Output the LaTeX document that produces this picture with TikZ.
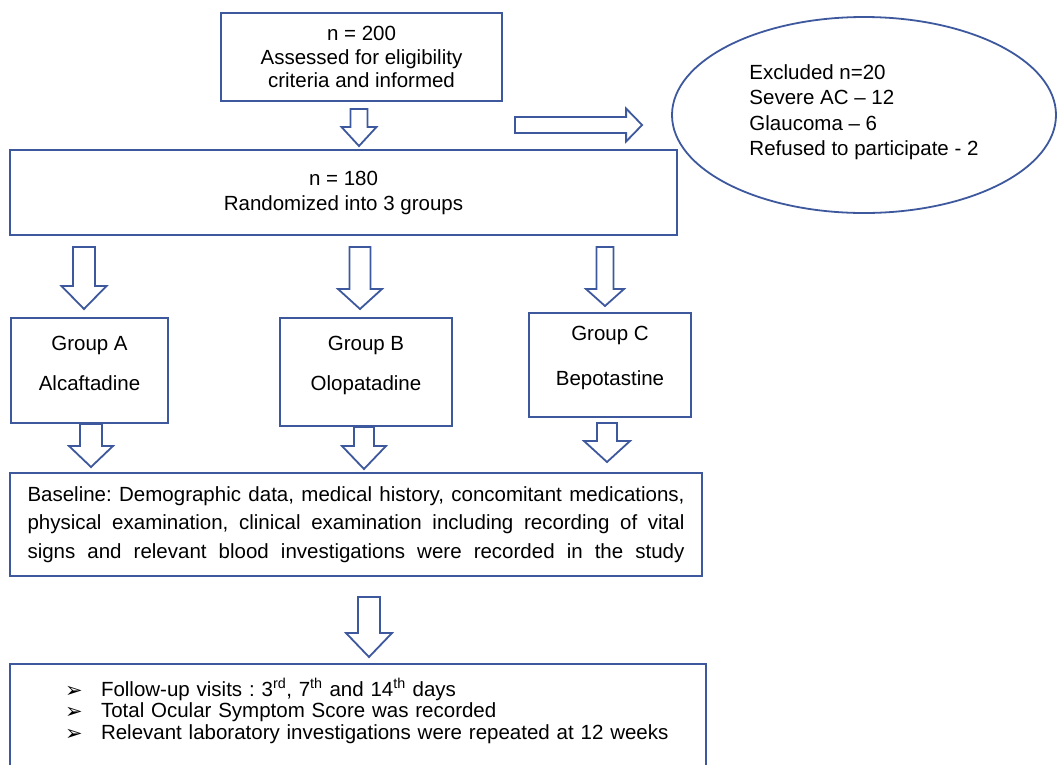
\documentclass[tikz,border=0pt]{standalone}
\usepackage{fontspec}
\setmainfont{Liberation Sans}
\newfontfamily\dejavu{DejaVu Sans}
\usetikzlibrary{shapes.geometric,calc}
\definecolor{flowblue}{RGB}{62,88,158}
\frenchspacing
\newcommand{\fs}[1]{\fontsize{20.5}{#1}\selectfont}
\newcommand{\bul}{\makebox[36pt][l]{\raisebox{-1pt}{\dejavu\fontsize{21}{21}\selectfont ➢}}}
\newcommand{\spreadline}[1]{\leavevmode\hbox to 657pt{\spaceskip=0.278em plus 1fil\relax #1}}
% #1 start, #2 tip, #3 shaft half width, #4 head half width, #5 head length
\newcommand{\blockdown}[5]{%
  \draw[blockarrow] let \p1=(#1), \p2=(#2) in
    (\x2-#3,\y1) -- (\x2+#3,\y1) -- (\x2+#3,\y2+#5) -- (\x2+#4,\y2+#5) --
    (\x2,\y2) -- (\x2-#4,\y2+#5) -- (\x2-#3,\y2+#5) -- cycle;}
\newcommand{\blockright}[5]{%
  \draw[blockarrow] let \p1=(#1), \p2=(#2) in
    (\x1,\y2+#3) -- (\x2-#5,\y2+#3) -- (\x2-#5,\y2+#4) -- (\x2,\y2) --
    (\x2-#5,\y2-#4) -- (\x2-#5,\y2-#3) -- (\x1,\y2-#3) -- cycle;}
\begin{document}
\begin{tikzpicture}[x=1pt,y=-1pt,
  box/.style={draw=flowblue,line width=2pt,rectangle,inner sep=0pt,align=center},
  blockarrow/.style={draw=flowblue,line width=1.8pt,fill=white,line join=miter}]
\useasboundingbox (0,0) rectangle (1063,764);
\clip (0,0) rectangle (1063,764);
\fill[white] (0,0) rectangle (1063,764);

\node[box,minimum width=281pt,minimum height=88pt,font=\fs{23.5}] (b1) at (361.5,57)
  {n = 200\\Assessed for eligibility\\criteria and informed};
\node[box,minimum width=667pt,minimum height=85pt,font=\fs{25}] (b2) at (343.5,192.5)
  {n = 180\\Randomized into 3 groups};
\node[draw=flowblue,line width=1.8pt,ellipse,minimum width=384pt,minimum height=196pt,
  inner sep=0pt,align=left,font=\fs{25.3}] (ex) at (864,115)
  {Excluded n=20\\Severe AC – 12\\Glaucoma – 6\\Refused to participate - 2\rule[-10pt]{0pt}{0pt}};

\node[box,minimum width=157pt,minimum height=105pt,font=\fs{40}] (gA) at (89.5,370.5)
  {Group A\\Alcaftadine\rule[-15pt]{0pt}{0pt}};
\node[box,minimum width=172pt,minimum height=108pt,font=\fs{40}] (gB) at (366,372)
  {Group B\\Olopatadine\rule[-18pt]{0pt}{0pt}};
\node[box,minimum width=162pt,minimum height=104pt,font=\fs{45}] (gC) at (610,365)
  {Group C\\Bepotastine\rule[-19pt]{0pt}{0pt}};

\node[box,minimum width=692pt,minimum height=103pt,text width=657pt,align=left,font=\fs{28.5}] (base) at (356,524.5)
  {\spreadline{Baseline: Demographic data, medical history, concomitant medications,}\\
   \spreadline{physical examination, clinical examination including recording of vital}\\
   \spreadline{signs and relevant blood investigations were recorded in the study}};

\node[box,anchor=north west,minimum width=696pt,text width=640pt,align=left,inner ysep=14.5pt,font=\fs{21.5}] (fu) at (9,663)
  {\hspace*{27pt}\bul Follow-up visits : 3\textsuperscript{rd}, 7\textsuperscript{th} and 14\textsuperscript{th} days\\
   \hspace*{27pt}\bul Total Ocular Symptom Score was recorded\\
   \hspace*{27pt}\bul Relevant laboratory investigations were repeated at 12 weeks\rule[-60pt]{0pt}{0pt}};

\blockdown{$(b1.south)+(-2.5,7)$}{$(b2.north)+(15.5,-3)$}{8.5pt}{17.5pt}{19pt}
\blockright{$(b1.south east)+(12,24)$}{$(ex.west)+(-29,10)$}{8pt}{16.5pt}{16pt}
\blockdown{$(b2.south -| gA.north)+(-5.5,11)$}{$(gA.north)+(-5.5,-8)$}{11pt}{22.5pt}{23pt}
\blockdown{$(b2.south -| gB.north)+(-6,11)$}{$(gB.north)+(-6,-8)$}{10.5pt}{22pt}{20pt}
\blockdown{$(b2.south -| gC.north)+(-5,11)$}{$(gC.north)+(-5,-6)$}{8.5pt}{19pt}{17pt}
\blockdown{$(gA.south)+(1.5,0)$}{$(base.north -| gA.south)+(1.5,-5)$}{11pt}{22pt}{21pt}
\blockdown{$(gB.south)+(-2,0)$}{$(base.north -| gB.south)+(-2,-3)$}{10pt}{22pt}{23pt}
\blockdown{$(gC.south)+(-3,5)$}{$(base.north -| gC.south)+(-3,-10)$}{10pt}{23pt}{21pt}
\blockdown{$(base.south)+(13,20)$}{$(fu.north -| base.south)+(13,-6)$}{11pt}{23pt}{24pt}
\end{tikzpicture}
\end{document}
